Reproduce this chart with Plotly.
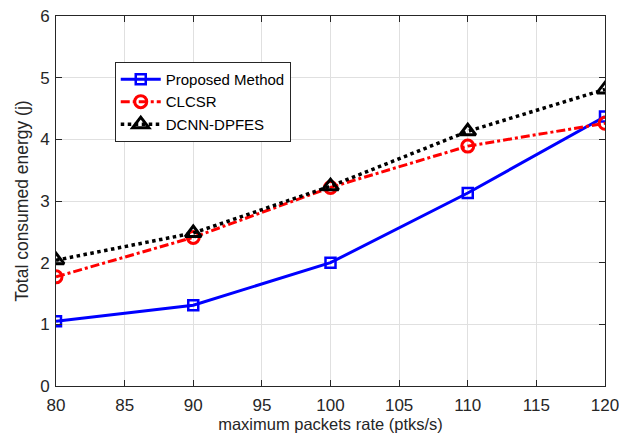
import plotly.graph_objects as go

x = [80, 90, 100, 110, 120]
proposed = [1.05, 1.31, 2.0, 3.13, 4.37]
clcsr = [1.77, 2.41, 3.22, 3.89, 4.26]
dcnn = [2.04, 2.48, 3.24, 4.13, 4.81]

xticks = [80, 85, 90, 95, 100, 105, 110, 115, 120]
yticks = [0, 1, 2, 3, 4, 5, 6]

fig = go.Figure()
fig.add_trace(go.Scatter(x=x, y=proposed, name="Proposed Method", mode="lines+markers",
                         line=dict(color="#0000FF", width=3),
                         marker=dict(symbol="square-open", size=10, color="#0000FF", line=dict(width=2.5))))
fig.add_trace(go.Scatter(x=x, y=clcsr, name="CLCSR", mode="lines+markers",
                         line=dict(color="#FF0000", width=3, dash="dashdot"),
                         marker=dict(symbol="circle-open", size=12, color="#FF0000", line=dict(width=3))))
fig.add_trace(go.Scatter(x=x, y=dcnn, name="DCNN-DPFES", mode="lines+markers",
                         line=dict(color="#000000", width=3.5, dash="dot"),
                         marker=dict(symbol="triangle-up-open", size=14, color="#000000", line=dict(width=3))))

axis_common = dict(showline=True, linecolor="#262626", linewidth=1, mirror="ticks",
                   ticks="inside", ticklen=6, tickcolor="#262626", automargin=False,
                   ticklabeloverflow="allow",
                   showgrid=True, gridcolor="#E0E0E0", gridwidth=1, zeroline=False,
                   tickfont=dict(family="Liberation Sans, Arial", size=17, color="#262626"))

fig.update_layout(
    width=619, height=447,
    margin=dict(l=56, r=14, t=16, b=61),
    paper_bgcolor="white", plot_bgcolor="white",
    font=dict(family="Liberation Sans, Arial", color="#262626"),
    xaxis=dict(range=[80, 120], tickvals=xticks, ticklabelstandoff=4,
               title=dict(text="maximum packets rate (ptks/s)", font=dict(size=16.5), standoff=4),
               **axis_common),
    yaxis=dict(range=[0, 6], tickvals=yticks, ticklabelstandoff=2,
               title=dict(text="Total consumed energy (j)", font=dict(size=17.5), standoff=7),
               **axis_common),
    legend=dict(x=0.107, y=0.876, xanchor="left", yanchor="top",
                bgcolor="white", bordercolor="#262626", borderwidth=1,
                font=dict(size=15, color="#000000"), tracegroupgap=0, itemwidth=40),
    showlegend=True,
)

fig.write_html(
    "out.html",
    config={"displayModeBar": False},
    post_script="document.documentElement.style.overflow='hidden';"
                "document.body.style.margin='0';document.body.style.overflow='hidden';",
)
